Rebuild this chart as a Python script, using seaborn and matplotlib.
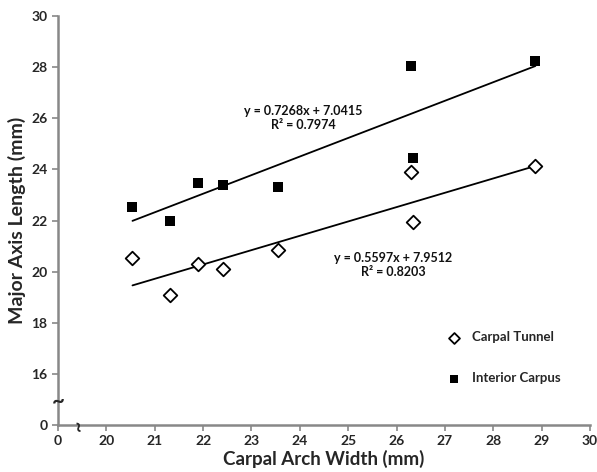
import matplotlib
matplotlib.use("Agg")
import matplotlib.pyplot as plt
import numpy as np
import pandas as pd
import seaborn as sns

# widths (mm)
width_mm = [20.54, 21.31, 21.90, 22.42, 23.54, 26.29, 26.34, 28.87]
tunnel_len = [20.52, 19.07, 20.30, 20.11, 20.84, 23.88, 21.93, 24.12]
carpus_len = [22.54, 22.00, 23.48, 23.37, 23.32, 28.05, 24.44, 28.24]

x_ticks = [19, 20, 21, 22, 23, 24, 25, 26, 27, 28, 29, 30]
x_ticklabels = ["0", "20", "21", "22", "23", "24", "25", "26", "27", "28", "29", "30"]
y_ticks = [14, 16, 18, 20, 22, 24, 26, 28, 30]
y_ticklabels = ["0", "16", "18", "20", "22", "24", "26", "28", "30"]

eq_carpus = "y = 0.7268x + 7.0415\nR² = 0.7974"
eq_tunnel = "y = 0.5597x + 7.9512\nR² = 0.8203"

df = pd.DataFrame({"width": width_mm, "tunnel": tunnel_len, "carpus": carpus_len})

sns.set_style("white")
plt.rcParams["font.family"] = ["Lato", "DejaVu Sans"]

fig = plt.figure(figsize=(5.97, 4.72), dpi=100)
ax = fig.add_axes([58 / 597, 47 / 472, 532 / 597, 409 / 472])

# trend lines
for col in ["carpus", "tunnel"]:
    sns.regplot(data=df, x="width", y=col, ci=None, scatter=False, truncate=True,
                color="black", line_kws={"linewidth": 1.3}, ax=ax)

sns.scatterplot(data=df, x="width", y="tunnel", marker="D", s=48, facecolor="white",
                edgecolor="black", linewidth=1.3, label="Carpal Tunnel", ax=ax, zorder=3)
sns.scatterplot(data=df, x="width", y="carpus", marker="s", s=62, color="black",
                edgecolor="black", linewidth=0, label="Interior Carpus", ax=ax, zorder=3)

ax.set_xlim(19, 30)
ax.set_ylim(14, 30)
ax.set_xticks(x_ticks)
ax.set_xticklabels(x_ticklabels)
ax.set_yticks(y_ticks)
ax.set_yticklabels(y_ticklabels)
ax.tick_params(axis="both", labelsize=10, length=4, width=1.2, color="#888888",
               direction="out", bottom=True, left=True)
for lab in ax.get_xticklabels() + ax.get_yticklabels():
    lab.set_fontweight("bold")

for side in ["top", "right"]:
    ax.spines[side].set_visible(False)
for side in ["left", "bottom"]:
    ax.spines[side].set_color("#888888")
    ax.spines[side].set_linewidth(1.8)

ax.set_xlabel("Carpal Arch Width (mm)", fontsize=13.5, fontweight="bold", labelpad=2)
ax.set_ylabel("Major Axis Length (mm)", fontsize=14, fontweight="bold", labelpad=4)

ax.text(24.07, 26.0, eq_carpus, ha="center", va="center", fontsize=9,
        fontweight="bold", color="#111111", linespacing=1.2)
ax.text(25.93, 20.25, eq_tunnel, ha="center", va="center", fontsize=9,
        fontweight="bold", color="#111111", linespacing=1.2)

# axis break marks
ax.text(19.0, 14.94, "~", ha="center", va="center", fontsize=16, fontweight="bold",
        clip_on=False)
ax.text(19.44, 14.0, "~", ha="center", va="center", fontsize=14, fontweight="bold",
        rotation=90, clip_on=False)

ax.legend(loc="lower left", bbox_to_anchor=(0.697, 0.07), frameon=False,
          labelspacing=2.2, handletextpad=0.4, markerscale=0.8,
          prop={"weight": "bold", "size": 9.5})

fig.savefig("out.png", dpi=100)
